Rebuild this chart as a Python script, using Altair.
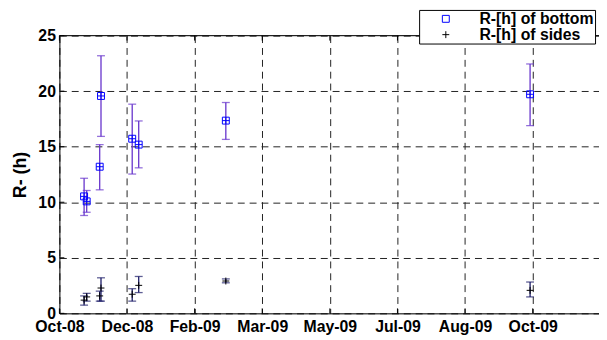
import altair as alt
import pandas as pd

# ---- data ----
dates = ["2008-11-09", "2008-11-11", "2008-11-21", "2008-11-22",
         "2008-12-16", "2008-12-21", "2009-02-26", "2009-10-18"]
bottom_val = [10.53, 10.08, 13.20, 19.57, 15.72, 15.19, 17.35, 19.72]
bottom_lo = [8.81, 9.10, 11.12, 15.93, 12.54, 13.10, 15.66, 16.90]
bottom_hi = [12.16, 11.06, 15.19, 23.19, 18.83, 17.32, 18.98, 22.45]
sides_val = [1.19, 1.48, 1.57, 2.28, 1.72, 2.52, 2.91, 2.07]
sides_lo = [0.74, 1.10, 1.10, 1.10, 1.10, 1.87, 2.75, 1.48]
sides_hi = [1.57, 1.80, 2.00, 3.20, 2.22, 3.32, 3.10, 2.82]
series_names = ["R-[h] of bottom", "R-[h] of sides"]
tick_dates = ["2008-10-21", "2008-12-12", "2009-02-02", "2009-03-26",
              "2009-05-17", "2009-07-08", "2009-08-29", "2009-10-20"]
y_ticks = [0, 5, 10, 15, 20, 25]
x_domain = ["2008-10-21", "2009-12-10"]
y_title = "R- (h)"


def dt(s):
    y, m, d = (int(v) for v in s.split("-"))
    return alt.DateTime(year=y, month=m, date=d, utc=True)


W, H = 546, 281
FONT = "Liberation Sans"
PLUS = "M-1,0H1M0,-1V1"

bottom_df = pd.DataFrame({"date": dates, "value": bottom_val, "lo": bottom_lo, "hi": bottom_hi})
sides_df = pd.DataFrame({"date": dates, "value": sides_val, "lo": sides_lo, "hi": sides_hi})
pts_df = pd.concat([
    bottom_df.assign(series=series_names[0]),
    sides_df.assign(series=series_names[1]),
])
tick_df = pd.DataFrame({"date": tick_dates})
ytick_df = pd.DataFrame({"value": y_ticks})
one_df = pd.DataFrame({"a": [0]})

X = alt.X(
    "date:T",
    scale=alt.Scale(type="utc", domain=[dt(d) for d in x_domain]),
    axis=alt.Axis(
        values=[dt(d) for d in tick_dates],
        labelExpr="utcFormat(datum.value, '%b-%y')",
        labelOverlap=False, labelBound=False, labelFlush=False,
        title=None, grid=True, gridDash=[7, 5], gridColor="#222222", gridWidth=1,
        ticks=False, domainColor="black", labelColor="black", labelFont=FONT,
        labelFontWeight="bold", labelFontSize=16, labelPadding=5,
    ),
)
Y_AX = alt.Axis(
    values=y_ticks, title=y_title, grid=True, gridDash=[7, 5], gridColor="#222222",
    gridWidth=1, ticks=False, domainColor="black", labelColor="black",
    labelFont=FONT, labelFontWeight="bold", labelFontSize=16, labelPadding=4,
    labelOverlap=False, labelFlush=False,
    titleFont=FONT, titleFontWeight="bold", titleFontSize=18, titleColor="black",
    titlePadding=8,
)
YS = alt.Scale(domain=[0, 25], nice=False)

legend = alt.Legend(
    title=None, orient="none", legendX=364, legendY=-26, strokeColor="black",
    fillColor="white", padding=1, symbolSize=49, symbolStrokeWidth=1,
    labelFont=FONT, labelFontWeight="bold", labelFontSize=16, labelColor="black",
    rowPadding=0, symbolOffset=18, labelOffset=26, cornerRadius=0,
)

BAR_B = "#6633cc"
BAR_S = "#1a1a66"

err_b = alt.Chart(bottom_df).mark_rule(color=BAR_B, strokeWidth=1.3).encode(
    x=X, y=alt.Y("lo:Q", scale=YS, axis=Y_AX), y2="hi:Q")
cap_b_lo = alt.Chart(bottom_df).mark_tick(color=BAR_B, orient="horizontal", size=8, thickness=1.3).encode(
    x=X, y=alt.Y("lo:Q", scale=YS, axis=Y_AX))
cap_b_hi = alt.Chart(bottom_df).mark_tick(color=BAR_B, orient="horizontal", size=8, thickness=1.3).encode(
    x=X, y=alt.Y("hi:Q", scale=YS, axis=Y_AX))
err_s = alt.Chart(sides_df).mark_rule(color=BAR_S, strokeWidth=1.3).encode(
    x=X, y=alt.Y("lo:Q", scale=YS, axis=Y_AX), y2="hi:Q")
cap_s_lo = alt.Chart(sides_df).mark_tick(color=BAR_S, orient="horizontal", size=8, thickness=1.3).encode(
    x=X, y=alt.Y("lo:Q", scale=YS, axis=Y_AX))
cap_s_hi = alt.Chart(sides_df).mark_tick(color=BAR_S, orient="horizontal", size=8, thickness=1.3).encode(
    x=X, y=alt.Y("hi:Q", scale=YS, axis=Y_AX))

points = alt.Chart(pts_df).mark_point(filled=False, size=49, strokeWidth=1, opacity=1).encode(
    x=X, y=alt.Y("value:Q", scale=YS, axis=Y_AX),
    shape=alt.Shape("series:N", scale=alt.Scale(domain=series_names, range=["square", PLUS]), legend=legend),
    color=alt.Color("series:N", scale=alt.Scale(domain=series_names, range=["#0000ff", "#000000"]), legend=legend),
)
inner_cross = alt.Chart(bottom_df).mark_point(shape=PLUS, filled=False, size=49, strokeWidth=1,
                                               color="#0000ff", opacity=1).encode(
    x=X, y=alt.Y("value:Q", scale=YS, axis=Y_AX))

xt_bot = alt.Chart(tick_df).mark_rule(color="black").encode(x=X, y=alt.value(H), y2=alt.value(H - 5))
xt_top = alt.Chart(tick_df).mark_rule(color="black").encode(x=X, y=alt.value(0), y2=alt.value(5))
yt = alt.Chart(ytick_df).mark_rule(color="black").encode(
    y=alt.Y("value:Q", scale=YS, axis=Y_AX), x=alt.value(0), x2=alt.value(5))
top_border = alt.Chart(one_df).mark_rule(color="black").encode(
    x=alt.value(0), x2=alt.value(W), y=alt.value(0))

chart = alt.layer(
    err_b, cap_b_lo, cap_b_hi, err_s, cap_s_lo, cap_s_hi,
    inner_cross, points, xt_bot, xt_top, yt, top_border,
).properties(
    width=W, height=H,
    padding={"left": 52, "top": 26, "right": 0, "bottom": 25},
    autosize=alt.AutoSizeParams(type="none"),
).configure_view(stroke=None).configure(background="white")

chart.save("out.html", embed_options={"renderer": "svg", "actions": False})
